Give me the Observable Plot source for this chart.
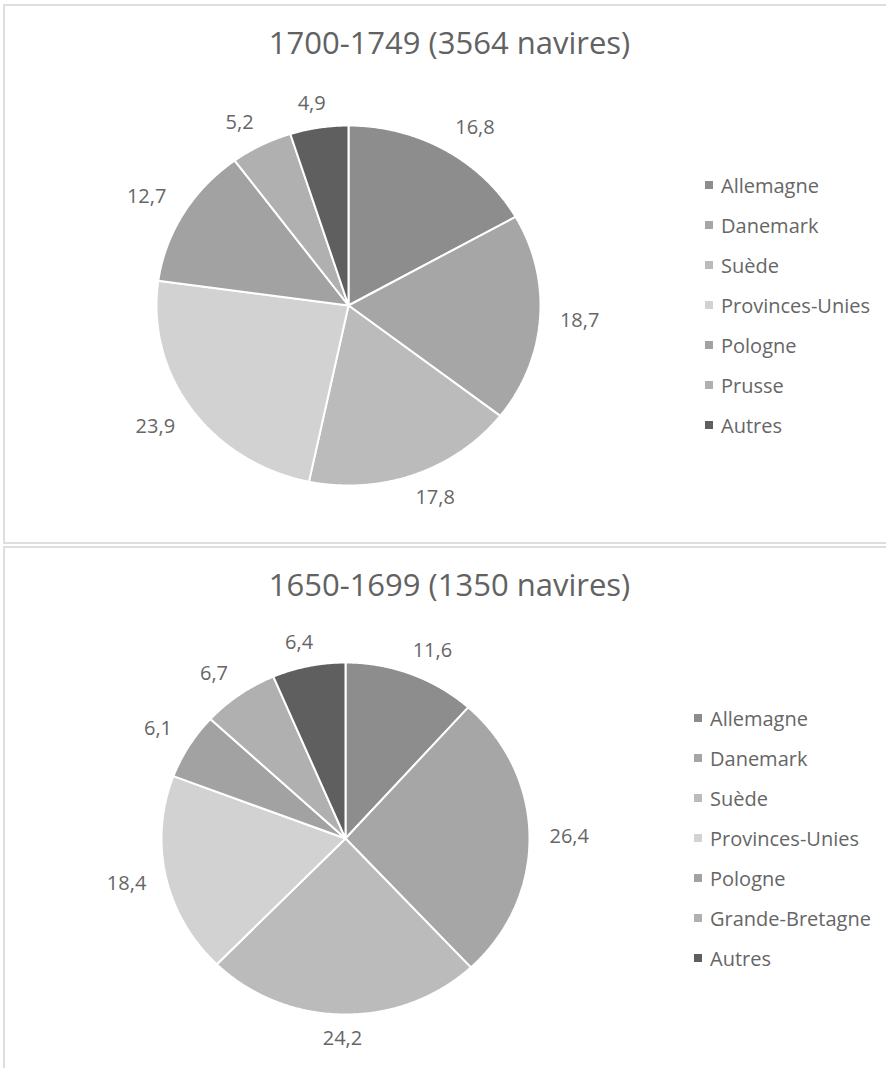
<!DOCTYPE html>
<html lang="fr">
<head>
<meta charset="utf-8">
<script src="https://cdn.jsdelivr.net/npm/d3@7"></script>
<script src="https://cdn.jsdelivr.net/npm/@observablehq/plot@0.6"></script>
<style>
  html, body { margin: 0; padding: 0; background: #fff; overflow: hidden; }
  body { width: 886px; height: 1068px; position: relative; font-family: "Open Sans", sans-serif; }
  .panel { position: absolute; left: 0; width: 886px; overflow: hidden; }
  .frame { position: absolute; border: 2px solid #dedede; border-right: none; box-sizing: border-box; }
  .legend { position: absolute; display: flex; flex-direction: column; }
  .legend .row { height: 40px; display: flex; align-items: center; gap: 8px; font-size: 20px; color: #666666; white-space: nowrap; }
  .legend .sw { width: 8px; height: 8px; flex: none; }
</style>
</head>
<body>
<script>
// Nationalité des navires, en % du total, par période
const titre1700 = "1700-1749 (3564 navires)";
const pays1700 = ["Allemagne", "Danemark", "Suède", "Provinces-Unies", "Pologne", "Prusse", "Autres"];
const parts1700 = [16.8, 18.7, 17.8, 23.9, 12.7, 5.2, 4.9];

const titre1650 = "1650-1699 (1350 navires)";
const pays1650 = ["Allemagne", "Danemark", "Suède", "Provinces-Unies", "Pologne", "Grande-Bretagne", "Autres"];
const parts1650 = [11.6, 26.4, 24.2, 18.4, 6.1, 6.7, 6.4];

// Palette de gris, dans l'ordre des catégories
const gris = ["#8d8d8d", "#a6a6a6", "#bbbbbb", "#d2d2d2", "#a2a2a2", "#b0b0b0", "#5f5f5f"];

const virgule = v => v.toFixed(1).replace(".", ",");
const clamp = v => Math.max(-1, Math.min(1, v));

function camembert({titre, pays, parts, top, height, cx, cy, rx, ry, titreY, legendeX}) {
  const rows = pays.map((name, i) => ({name, value: parts[i]}));
  const arcs = d3.pie().sort(null).value(d => d.value)(rows);

  // Contour de chaque secteur : centre puis arc échantillonné
  const contours = arcs.flatMap(a => {
    const n = Math.max(4, Math.ceil((a.endAngle - a.startAngle) / 0.005));
    const pts = [{name: a.data.name, u: 0, v: 0}];
    for (let i = 0; i <= n; ++i) {
      const t = a.startAngle + (a.endAngle - a.startAngle) * i / n;
      pts.push({name: a.data.name, u: Math.sin(t), v: Math.cos(t)});
    }
    return pts;
  });

  // Étiquettes « extérieur fin » : boîte posée contre le bord du secteur
  const gx = 20, gy = 14, hh = 10;
  const mid = a => (a.startAngle + a.endAngle) / 2;
  const demiLargeur = a => (virgule(a.data.value).length - 1) * 5.7 + 2.6;
  const labelX = a => {
    const s = Math.sin(mid(a));
    return s + (gx * s + demiLargeur(a) * clamp(2 * s)) / rx;
  };
  const labelY = a => {
    const c = Math.cos(mid(a));
    return c + (gy * c + hh * clamp(2 * c)) / ry;
  };

  const plot = Plot.plot({
    width: 886,
    height,
    margin: 0,
    style: {background: "transparent", fontFamily: "Open Sans, sans-serif"},
    x: {domain: [-1, 1], range: [cx - rx, cx + rx], axis: null},
    y: {domain: [-1, 1], range: [cy + ry, cy - ry], axis: null},
    color: {type: "ordinal", domain: pays, range: gris},
    marks: [
      Plot.line(contours, {x: "u", y: "v", z: "name", fill: "name", stroke: "white", strokeWidth: 2, strokeLinejoin: "miter", curve: "linear-closed"}),
      Plot.text(arcs, {
        x: labelX,
        y: labelY,
        text: a => virgule(a.data.value),
        fontSize: 20,
        fill: "#666666",
        textAnchor: "middle",
        lineAnchor: "middle"
      }),
      Plot.text([titre], {frameAnchor: "top", dx: 6, dy: titreY, lineAnchor: "middle", fontSize: 31, fill: "#626262"})
    ]
  });

  const panel = document.createElement("div");
  panel.className = "panel";
  panel.style.top = top + "px";
  panel.style.height = height + "px";
  panel.appendChild(plot);

  const legende = document.createElement("div");
  legende.className = "legend";
  legende.style.left = legendeX + "px";
  legende.style.top = (cy - 20 * pays.length) + "px";
  pays.forEach((p, i) => {
    const row = document.createElement("div");
    row.className = "row";
    const sw = document.createElement("span");
    sw.className = "sw";
    sw.style.background = gris[i];
    const lab = document.createElement("span");
    lab.textContent = p;
    row.append(sw, lab);
    legende.appendChild(row);
  });
  panel.appendChild(legende);
  document.body.appendChild(panel);
}

camembert({titre: titre1700, pays: pays1700, parts: parts1700, top: 0, height: 545,
  cx: 348, cy: 305, rx: 192, ry: 180, titreY: 44, legendeX: 705});
camembert({titre: titre1650, pays: pays1650, parts: parts1650, top: 545, height: 523,
  cx: 345, cy: 293, rx: 184, ry: 176, titreY: 41, legendeX: 694});

// Cadres des deux graphiques
for (const [t, h] of [[4, 540], [546, 540]]) {
  const f = document.createElement("div");
  f.className = "frame";
  f.style.left = "3px";
  f.style.top = t + "px";
  f.style.width = "890px";
  f.style.height = h + "px";
  document.body.appendChild(f);
}
</script>
</body>
</html>
